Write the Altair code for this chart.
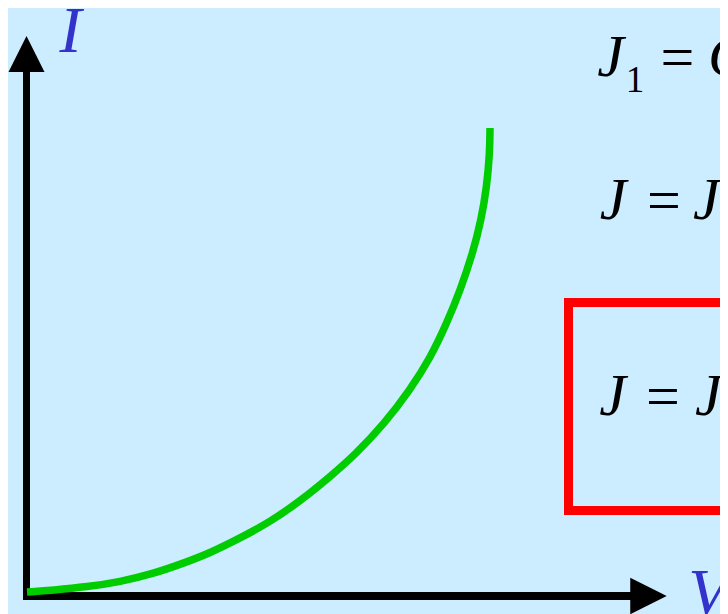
import altair as alt
import pandas as pd

# ---- data (V, I in units where the curve ends at 1, 1) ----
V = [0.0, 0.056, 0.130, 0.201, 0.272, 0.346, 0.395, 0.460, 0.525, 0.590, 0.654, 0.708,
     0.773, 0.827, 0.872, 0.907, 0.936, 0.963, 0.981, 0.993, 0.9994, 1.0]
I = [0.0, 0.004, 0.011, 0.022, 0.039, 0.065, 0.084, 0.116, 0.151, 0.196, 0.248, 0.295,
     0.364, 0.435, 0.506, 0.580, 0.651, 0.731, 0.802, 0.873, 0.946, 1.0]

# axes, in data units
AXIS_V_POS = -0.0011          # where the I axis stands
AXIS_I_POS = -0.0086          # where the V axis lies
V_AXIS = [-0.0086, 1.3067]    # extent of the V axis line
I_AXIS = [-0.0172, 1.1207]    # extent of the I axis line
ARROW_V = 1.3423              # centre of the V-axis arrow head
ARROW_I = 1.1595              # centre of the I-axis arrow head

# ---- layout ----
W, H = 712, 606
X0, KX = 19.0, 463.0     # view px of V=0, px per unit
Y0, KY = 584.0, 464.0    # view px of I=0, px per unit
xs = alt.Scale(domain=[-X0 / KX, (W - X0) / KX], nice=False, zero=False)
ys = alt.Scale(domain=[-(H - Y0) / KY, Y0 / KY], nice=False, zero=False)

BG = "#CCECFF"
BLUE = "#3333CC"
GREEN = "#00CC00"
SERIF = "Liberation Serif"

X = lambda f: alt.X(f, scale=xs, axis=None)
Y = lambda f: alt.Y(f, scale=ys, axis=None)

h_axis = alt.Chart(pd.DataFrame({"x": [V_AXIS[0]], "x2": [V_AXIS[1]], "y": [AXIS_I_POS]})).mark_rule(
    color="black", strokeWidth=8, strokeCap="butt"
).encode(x=X("x:Q"), x2="x2:Q", y=Y("y:Q"))

v_axis = alt.Chart(pd.DataFrame({"x": [AXIS_V_POS], "y": [I_AXIS[0]], "y2": [I_AXIS[1]]})).mark_rule(
    color="black", strokeWidth=7, strokeCap="butt"
).encode(x=X("x:Q"), y=Y("y:Q"), y2="y2:Q")

up_arrow = alt.Chart(pd.DataFrame({"x": [AXIS_V_POS], "y": [ARROW_I]})).mark_point(
    shape="M0,-1L-1,1L1,1Z", filled=True, size=1296, color="black", opacity=1, strokeWidth=0
).encode(x=X("x:Q"), y=Y("y:Q"))

right_arrow = alt.Chart(pd.DataFrame({"x": [ARROW_V], "y": [AXIS_I_POS]})).mark_point(
    shape="M1,0L-1,-1L-1,1Z", filled=True, size=1330, color="black", opacity=1, strokeWidth=0
).encode(x=X("x:Q"), y=Y("y:Q"))

curve = alt.Chart(pd.DataFrame({"V": V, "I": I})).mark_line(
    color=GREEN, strokeWidth=7.5, interpolate="basis", strokeCap="butt"
).encode(x=X("V:Q"), y=Y("I:Q"))

one = pd.DataFrame({"a": [0]})
box = alt.Chart(one).mark_rect(
    fillOpacity=0, stroke="#FF0000", strokeWidth=9
).encode(x=alt.value(560.5), x2=alt.value(800), y=alt.value(294.5), y2=alt.value(502.5))


def txt(s, x, y, size=60, italic=True, color="black", align="center"):
    kw = dict(text=s, font=SERIF, fontSize=size, color=color, align=align, baseline="alphabetic")
    if italic:
        kw["fontStyle"] = "italic"
    return alt.Chart(one).mark_text(**kw).encode(x=alt.value(x), y=alt.value(y))


texts = [
    txt("I", 62.5, 44, size=66, color=BLUE),
    txt("V", 700.5, 606, size=66, color=BLUE),
    # J1 = C
    txt("J", 602.5, 68),
    txt("1", 627, 84, size=37, italic=False),
    txt("=", 669.5, 69, italic=False),
    txt("C", 700, 68, align="left"),
    # J = J
    txt("J", 605, 211),
    txt("=", 656, 212, italic=False),
    txt("J", 685, 211, align="left"),
    # boxed J = J
    txt("J", 604.5, 407),
    txt("=", 655, 408, italic=False),
    txt("J", 687, 407, align="left"),
]

chart = alt.layer(h_axis, v_axis, up_arrow, right_arrow, curve, box, *texts).properties(
    width=W, height=H, background=BG, padding=0, autosize=alt.AutoSizeParams(type="none")
).configure_view(stroke=None)

chart.save("out.html", embed_options={"renderer": "svg", "actions": False})
